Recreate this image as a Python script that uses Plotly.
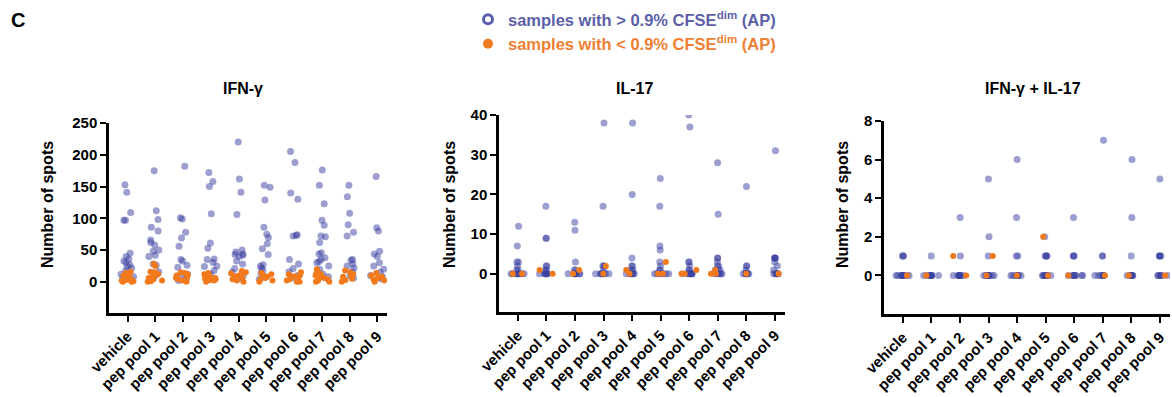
import plotly.graph_objects as go

CATEGORIES = ["vehicle", "pep pool 1", "pep pool 2", "pep pool 3", "pep pool 4",
              "pep pool 5", "pep pool 6", "pep pool 7", "pep pool 8", "pep pool 9"]

# IFN-gamma spots
IFNG_HIGH = [
    [141, 153, 109, 97, 97, 45, 40, 36, 33, 30, 27, 24, 22, 18, 12, 8, 5, 3],
    [175, 112, 98, 86, 80, 66, 62, 58, 50, 48, 42, 40, 28, 26, 16, 10, 5],
    [182, 101, 99, 78, 69, 56, 35, 33, 26, 23, 12, 8, 5, 2],
    [172, 158, 150, 107, 61, 53, 36, 35, 31, 25, 24, 18, 12, 8],
    [220, 162, 141, 106, 50, 47, 44, 43, 42, 40, 33, 28, 21, 15, 10, 5],
    [152, 149, 129, 86, 75, 70, 60, 52, 43, 27, 25, 22, 18, 14, 8, 4],
    [205, 188, 140, 130, 74, 73, 72, 35, 28, 21, 16, 10, 6],
    [176, 152, 123, 97, 89, 72, 71, 62, 46, 44, 38, 35, 32, 30, 25, 20, 12, 8],
    [152, 134, 108, 90, 78, 72, 35, 34, 28, 25, 22, 16, 10, 6],
    [166, 85, 80, 48, 44, 40, 30, 25, 20, 15, 10, 8, 5],
]
IFNG_LOW = [
    [16, 14, 12, 10, 8, 6, 5, 4, 3, 2, 1, 0, 0],
    [28, 25, 16, 15, 14, 12, 10, 8, 6, 4, 2, 1, 0],
    [15, 14, 12, 10, 8, 6, 4, 2, 0],
    [14, 12, 10, 8, 6, 5, 4, 3, 2, 0],
    [17, 15, 13, 12, 10, 8, 6, 4, 2, 0],
    [14, 12, 10, 8, 6, 4, 2, 0],
    [15, 12, 10, 9, 8, 6, 4, 2, 0, 0],
    [20, 15, 13, 12, 10, 8, 6, 4, 2, 0, 0],
    [18, 15, 12, 10, 8, 5, 3, 0],
    [14, 10, 8, 6, 4, 2, 0],
]

# IL-17 spots
IL17_HIGH = [
    [12, 7, 3, 3, 2, 1, 1, 0, 0, 0, 0, 0, 0, 0, 0, 0],
    [17, 9, 9, 2, 2, 1, 1, 0, 0, 0, 0, 0, 0, 0],
    [13, 11, 3, 1, 1, 0, 0, 0, 0, 0, 0, 0, 0],
    [38, 17, 2, 2, 2, 1, 0, 0, 0, 0, 0, 0, 0, 0],
    [38, 20, 4, 2, 2, 1, 1, 0, 0, 0, 0, 0, 0, 0],
    [24, 17, 7, 6, 3, 2, 1, 1, 0, 0, 0, 0, 0, 0, 0],
    [40, 37, 3, 3, 2, 1, 1, 0, 0, 0, 0, 0, 0, 0, 0],
    [28, 15, 4, 4, 3, 2, 2, 1, 1, 1, 0, 0, 0, 0, 0, 0],
    [22, 2, 2, 1, 0, 0, 0, 0, 0, 0, 0],
    [31, 4, 4, 4, 4, 3, 2, 1, 0, 0, 0, 0, 0, 0],
]
IL17_LOW = [
    [0, 0],
    [1, 0],
    [1, 0],
    [2, 0],
    [1, 0],
    [3, 0, 0],
    [1, 0, 0],
    [1, 0, 0],
    [0],
    [0],
]

# IFN-gamma + IL-17 spots
DOUBLE_HIGH = [
    [1, 1, 1, 0, 0, 0, 0, 0, 0, 0, 0, 0, 0],
    [1, 0, 0, 0, 0, 0, 0, 0, 0, 0],
    [3, 1, 0, 0, 0, 0, 0, 0, 0, 0, 0],
    [5, 2, 1, 0, 0, 0, 0, 0, 0, 0, 0, 0, 0],
    [6, 3, 1, 1, 0, 0, 0, 0, 0, 0, 0, 0],
    [2, 1, 1, 1, 1, 0, 0, 0, 0, 0, 0, 0, 0],
    [3, 1, 1, 1, 0, 0, 0, 0, 0, 0, 0, 0],
    [7, 1, 1, 0, 0, 0, 0, 0, 0, 0],
    [6, 3, 1, 0, 0, 0, 0, 0, 0, 0],
    [5, 1, 1, 1, 1, 0, 0, 0, 0, 0, 0],
]
DOUBLE_LOW = [
    [0], [0], [1, 0], [1, 0], [0], [2, 0], [0], [0], [0], [0],
]

PANELS = [
    ("IFN-γ", IFNG_HIGH, IFNG_LOW, [-49, 250], [0, 50, 100, 150, 200, 250]),
    ("IL-17", IL17_HIGH, IL17_LOW, [-9.6, 40], [0, 10, 20, 30, 40]),
    ("IFN-γ + IL-17", DOUBLE_HIGH, DOUBLE_LOW, [-2, 8], [0, 2, 4, 6, 8]),
]

W, H = 1172, 397
X_DOMAINS_PX = [(109, 387), (499, 785), (884, 1170)]
Y_DOMAINS_PX = [(123, 313), (115, 312), (121, 314)]
X_RANGES = [[-0.67, 9.35], [-0.66, 9.35], [-0.66, 9.35]]
TITLE_X_PX = [243, 634, 1033]
YTITLE_X_PX = [48, 450, 843]

BLUE = "rgb(58,64,160)"
ORANGE = "#f27a1c"
FONT = "Arial, Liberation Sans, sans-serif"


def flatten(groups):
    xs, ys = [], []
    for cat, vals in zip(CATEGORIES, groups):
        xs += [cat] * len(vals)
        ys += list(vals)
    return xs, ys


fig = go.Figure()
for i, (title, hi, lo, yr, yt) in enumerate(PANELS):
    sfx = "" if i == 0 else str(i + 1)
    for groups, color, size, opac in ((hi, BLUE, 7, 0.5), (lo, ORANGE, 6, 1.0)):
        xs, ys = flatten(groups)
        fig.add_trace(go.Box(
            x=xs, y=ys, xaxis="x" + sfx, yaxis="y" + sfx,
            boxpoints="all", jitter=0.75, pointpos=0, width=0.75,
            fillcolor="rgba(0,0,0,0)", line=dict(color="rgba(0,0,0,0)", width=0),
            marker=dict(color=color, size=size, opacity=opac, line=dict(width=0)),
            hoveron="points", showlegend=False,
        ))
    x0, x1 = X_DOMAINS_PX[i]
    y0, y1 = Y_DOMAINS_PX[i]
    axis_common = dict(showline=True, linecolor="black", linewidth=2.5, ticks="outside",
                       ticklen=6, tickwidth=2, tickcolor="black", showgrid=False,
                       zeroline=False, automargin=False,
                       tickfont=dict(family=FONT, size=15, color="black", weight="bold"))
    fig.layout["xaxis" + sfx] = dict(
        axis_common, domain=[x0 / W, x1 / W], anchor="y" + sfx,
        type="category", categoryorder="array", categoryarray=CATEGORIES,
        range=X_RANGES[i], tickangle=-45,
        tickfont=dict(family=FONT, size=15, color="black", weight="bold"))
    fig.layout["yaxis" + sfx] = dict(
        axis_common, domain=[1 - y1 / H, 1 - y0 / H], anchor="x" + sfx,
        range=yr, tickvals=yt)
    fig.add_annotation(text=title, x=TITLE_X_PX[i] / W, y=1 - 88 / H,
                       xref="paper", yref="paper", showarrow=False,
                       xanchor="center", yanchor="middle",
                       font=dict(family=FONT, size=16, color="black", weight="bold"))
    fig.add_annotation(text="Number of spots", x=YTITLE_X_PX[i] / W, y=1 - 205 / H,
                       xref="paper", yref="paper", showarrow=False, textangle=-90,
                       xanchor="center", yanchor="middle",
                       font=dict(family=FONT, size=16, color="black", weight="bold"))

# legend entries
fig.add_trace(go.Scatter(
    x=[None], y=[None], mode="markers",
    marker=dict(symbol="circle-open", size=9, color="#5b5fb0", line=dict(width=3, color="#5b5fb0")),
    name="<span style='color:#5b5fa8'>samples with &gt; 0.9% CFSE<sup>dim</sup> (AP)</span>",
    showlegend=True))
fig.add_trace(go.Scatter(
    x=[None], y=[None], mode="markers",
    marker=dict(symbol="circle", size=10, color="#f07a22"),
    name="<span style='color:#ee8034'>samples with &lt; 0.9% CFSE<sup>dim</sup> (AP)</span>",
    showlegend=True))

fig.add_annotation(text="C", x=18 / W, y=1 - 20 / H, xref="paper", yref="paper",
                   showarrow=False, xanchor="center", yanchor="middle",
                   font=dict(family=FONT, size=20, color="black", weight="bold"))

fig.update_layout(
    width=W, height=H, margin=dict(l=0, r=0, t=0, b=0, pad=0, autoexpand=False),
    paper_bgcolor="white", plot_bgcolor="white",
    boxmode="overlay",
    legend=dict(x=468 / W, y=1 - 2 / H, xanchor="left", yanchor="top",
                font=dict(family=FONT, size=16.5, weight="bold"),
                itemwidth=30, tracegroupgap=0, bgcolor="rgba(0,0,0,0)"),
)

fig.write_html("out.html")
